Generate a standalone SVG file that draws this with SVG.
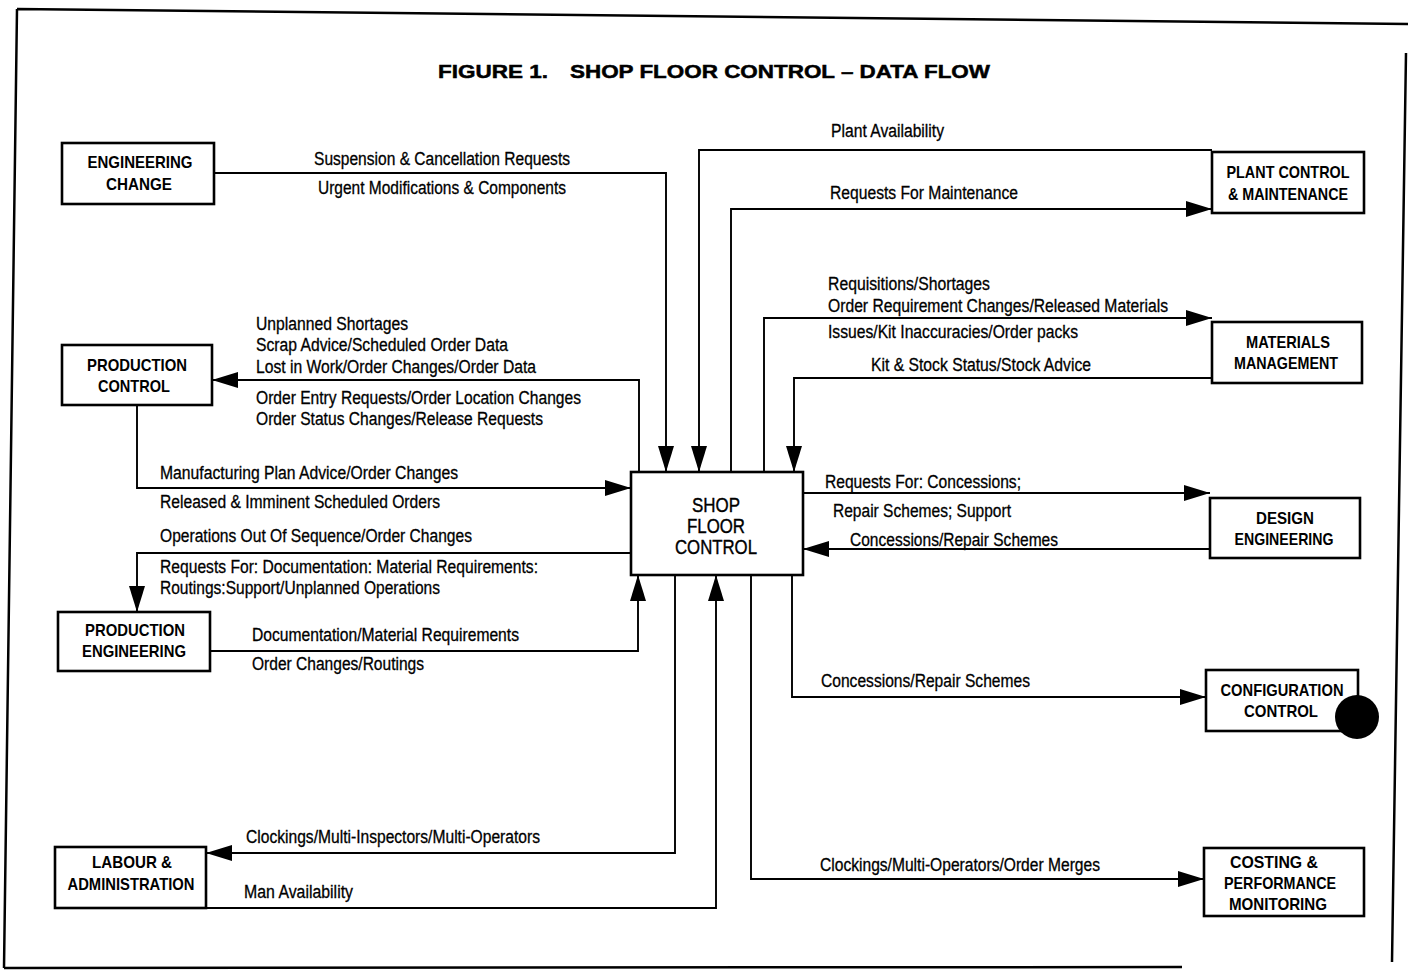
<svg xmlns="http://www.w3.org/2000/svg" width="1408" height="978" viewBox="0 0 1408 978">
<style>
.frame{fill:none;stroke:#000;stroke-width:2.5}
.box{fill:#fff;stroke:#000;stroke-width:2.6}
.bl{font-family:"Liberation Sans Narrow","Liberation Sans",Arial,sans-serif;font-weight:bold;font-size:17px;text-anchor:middle;fill:#000}
.sfc{font-family:"Liberation Sans Narrow","Liberation Sans",Arial,sans-serif;font-size:21px;text-anchor:middle;fill:#000;stroke:#000;stroke-width:0.4}
.lb{font-family:"Liberation Sans Narrow","Liberation Sans",Arial,sans-serif;font-size:18px;fill:#000;stroke:#000;stroke-width:0.3}
.ttl{font-family:"Liberation Sans",Arial,sans-serif;font-weight:900;font-size:19px;fill:#000;stroke:#000;stroke-width:0.5}
.c{fill:none;stroke:#000;stroke-width:1.9}
</style>
<defs>
<marker id="ah" markerUnits="userSpaceOnUse" markerWidth="28" markerHeight="18" refX="26" refY="8" orient="auto">
<path d="M0,0 L26,8 L0,16 z" fill="#000"/>
</marker>
</defs>
<rect width="1408" height="978" fill="#fff"/>
<g id="frame">
<path class="frame" d="M17,9 L1408,24 M17,9 L4,968 M4,968 L1182,967 M1406,53 L1392,962"/>
</g>
<g id="title">
<text class="ttl" x="438" y="78" textLength="110" lengthAdjust="spacingAndGlyphs">FIGURE 1.</text>
<text class="ttl" x="570" y="78" textLength="420" lengthAdjust="spacingAndGlyphs">SHOP FLOOR CONTROL – DATA FLOW</text>
</g>
<g id="connectors">
<path class="c" d="M214,173 L666,173 L666,472" marker-end="url(#ah)"/>
<path class="c" d="M1212,150 L699,150 L699,472" marker-end="url(#ah)"/>
<path class="c" d="M731,472 L731,209 L1212,209" marker-end="url(#ah)"/>
<path class="c" d="M764,472 L764,318 L1212,318" marker-end="url(#ah)"/>
<path class="c" d="M1212,378 L794,378 L794,472" marker-end="url(#ah)"/>
<path class="c" d="M639,472 L639,380 L212,380" marker-end="url(#ah)"/>
<path class="c" d="M137,405 L137,488 L631,488" marker-end="url(#ah)"/>
<path class="c" d="M631,553 L137,553 L137,612" marker-end="url(#ah)"/>
<path class="c" d="M210,651 L638,651 L638,575" marker-end="url(#ah)"/>
<path class="c" d="M675,575 L675,853 L206,853" marker-end="url(#ah)"/>
<path class="c" d="M206,908 L716,908 L716,575" marker-end="url(#ah)"/>
<path class="c" d="M803,493 L1210,493" marker-end="url(#ah)"/>
<path class="c" d="M1210,549 L803,549" marker-end="url(#ah)"/>
<path class="c" d="M792,575 L792,697 L1206,697" marker-end="url(#ah)"/>
<path class="c" d="M751,575 L751,879 L1204,879" marker-end="url(#ah)"/>
</g>
<g id="labels">
<text class="lb" x="314" y="165" textLength="256" lengthAdjust="spacingAndGlyphs">Suspension &amp; Cancellation Requests</text>
<text class="lb" x="318" y="194" textLength="248" lengthAdjust="spacingAndGlyphs">Urgent Modifications &amp; Components</text>
<text class="lb" x="831" y="137" textLength="113" lengthAdjust="spacingAndGlyphs">Plant Availability</text>
<text class="lb" x="830" y="199" textLength="188" lengthAdjust="spacingAndGlyphs">Requests For Maintenance</text>
<text class="lb" x="828" y="290" textLength="162" lengthAdjust="spacingAndGlyphs">Requisitions/Shortages</text>
<text class="lb" x="828" y="312" textLength="340" lengthAdjust="spacingAndGlyphs">Order Requirement Changes/Released Materials</text>
<text class="lb" x="828" y="338" textLength="250" lengthAdjust="spacingAndGlyphs">Issues/Kit Inaccuracies/Order packs</text>
<text class="lb" x="871" y="371" textLength="220" lengthAdjust="spacingAndGlyphs">Kit &amp; Stock Status/Stock Advice</text>
<text class="lb" x="256" y="330" textLength="152" lengthAdjust="spacingAndGlyphs">Unplanned Shortages</text>
<text class="lb" x="256" y="351" textLength="252" lengthAdjust="spacingAndGlyphs">Scrap Advice/Scheduled Order Data</text>
<text class="lb" x="256" y="373" textLength="280" lengthAdjust="spacingAndGlyphs">Lost in Work/Order Changes/Order Data</text>
<text class="lb" x="256" y="404" textLength="325" lengthAdjust="spacingAndGlyphs">Order Entry Requests/Order Location Changes</text>
<text class="lb" x="256" y="425" textLength="287" lengthAdjust="spacingAndGlyphs">Order Status Changes/Release Requests</text>
<text class="lb" x="160" y="479" textLength="298" lengthAdjust="spacingAndGlyphs">Manufacturing Plan Advice/Order Changes</text>
<text class="lb" x="160" y="508" textLength="280" lengthAdjust="spacingAndGlyphs">Released &amp; Imminent Scheduled Orders</text>
<text class="lb" x="160" y="542" textLength="312" lengthAdjust="spacingAndGlyphs">Operations Out Of Sequence/Order Changes</text>
<text class="lb" x="160" y="573" textLength="378" lengthAdjust="spacingAndGlyphs">Requests For: Documentation: Material Requirements:</text>
<text class="lb" x="160" y="594" textLength="280" lengthAdjust="spacingAndGlyphs">Routings:Support/Unplanned Operations</text>
<text class="lb" x="252" y="641" textLength="267" lengthAdjust="spacingAndGlyphs">Documentation/Material Requirements</text>
<text class="lb" x="252" y="670" textLength="172" lengthAdjust="spacingAndGlyphs">Order Changes/Routings</text>
<text class="lb" x="246" y="843" textLength="294" lengthAdjust="spacingAndGlyphs">Clockings/Multi-Inspectors/Multi-Operators</text>
<text class="lb" x="244" y="898" textLength="109" lengthAdjust="spacingAndGlyphs">Man Availability</text>
<text class="lb" x="825" y="488" textLength="196" lengthAdjust="spacingAndGlyphs">Requests For: Concessions;</text>
<text class="lb" x="833" y="517" textLength="178" lengthAdjust="spacingAndGlyphs">Repair Schemes; Support</text>
<text class="lb" x="850" y="546" textLength="208" lengthAdjust="spacingAndGlyphs">Concessions/Repair Schemes</text>
<text class="lb" x="821" y="687" textLength="209" lengthAdjust="spacingAndGlyphs">Concessions/Repair Schemes</text>
<text class="lb" x="820" y="871" textLength="280" lengthAdjust="spacingAndGlyphs">Clockings/Multi-Operators/Order Merges</text>
</g>
<g id="shop-floor-control">
<rect class="box" x="631" y="472" width="172" height="103"/>
<text class="sfc" x="716" y="512" textLength="48" lengthAdjust="spacingAndGlyphs">SHOP</text>
<text class="sfc" x="716" y="533" textLength="58" lengthAdjust="spacingAndGlyphs">FLOOR</text>
<text class="sfc" x="716" y="554" textLength="82" lengthAdjust="spacingAndGlyphs">CONTROL</text>
</g>
<g id="engineering-change">
<rect class="box" x="62" y="143" width="152" height="61"/>
<text class="bl" x="140" y="168" textLength="105" lengthAdjust="spacingAndGlyphs">ENGINEERING</text>
<text class="bl" x="139" y="190" textLength="66" lengthAdjust="spacingAndGlyphs">CHANGE</text>
</g>
<g id="production-control">
<rect class="box" x="62" y="345" width="150" height="60"/>
<text class="bl" x="137" y="371" textLength="100" lengthAdjust="spacingAndGlyphs">PRODUCTION</text>
<text class="bl" x="134" y="392" textLength="72" lengthAdjust="spacingAndGlyphs">CONTROL</text>
</g>
<g id="production-engineering">
<rect class="box" x="58" y="612" width="152" height="59"/>
<text class="bl" x="135" y="636" textLength="100" lengthAdjust="spacingAndGlyphs">PRODUCTION</text>
<text class="bl" x="134" y="657" textLength="104" lengthAdjust="spacingAndGlyphs">ENGINEERING</text>
</g>
<g id="labour-administration">
<rect class="box" x="55" y="847" width="151" height="61"/>
<text class="bl" x="132" y="868" textLength="80" lengthAdjust="spacingAndGlyphs">LABOUR &amp;</text>
<text class="bl" x="131" y="890" textLength="127" lengthAdjust="spacingAndGlyphs">ADMINISTRATION</text>
</g>
<g id="plant-control-maintenance">
<rect class="box" x="1212" y="152" width="152" height="61"/>
<text class="bl" x="1288" y="178" textLength="123" lengthAdjust="spacingAndGlyphs">PLANT CONTROL</text>
<text class="bl" x="1288" y="200" textLength="120" lengthAdjust="spacingAndGlyphs">&amp; MAINTENANCE</text>
</g>
<g id="materials-management">
<rect class="box" x="1212" y="322" width="150" height="61"/>
<text class="bl" x="1288" y="348" textLength="84" lengthAdjust="spacingAndGlyphs">MATERIALS</text>
<text class="bl" x="1286" y="369" textLength="104" lengthAdjust="spacingAndGlyphs">MANAGEMENT</text>
</g>
<g id="design-engineering">
<rect class="box" x="1210" y="498" width="150" height="60"/>
<text class="bl" x="1285" y="524" textLength="58" lengthAdjust="spacingAndGlyphs">DESIGN</text>
<text class="bl" x="1284" y="545" textLength="99" lengthAdjust="spacingAndGlyphs">ENGINEERING</text>
</g>
<g id="configuration-control">
<rect class="box" x="1206" y="670" width="152" height="61"/>
<text class="bl" x="1282" y="696" textLength="123" lengthAdjust="spacingAndGlyphs">CONFIGURATION</text>
<text class="bl" x="1281" y="717" textLength="74" lengthAdjust="spacingAndGlyphs">CONTROL</text>
</g>
<g id="costing-performance-monitoring">
<rect class="box" x="1204" y="848" width="160" height="68"/>
<text class="bl" x="1274" y="868" textLength="88" lengthAdjust="spacingAndGlyphs">COSTING &amp;</text>
<text class="bl" x="1280" y="889" textLength="112" lengthAdjust="spacingAndGlyphs">PERFORMANCE</text>
<text class="bl" x="1278" y="910" textLength="98" lengthAdjust="spacingAndGlyphs">MONITORING</text>
</g>
<g id="punch-hole">
<circle cx="1357" cy="717" r="22" fill="#000"/>
</g>
</svg>
